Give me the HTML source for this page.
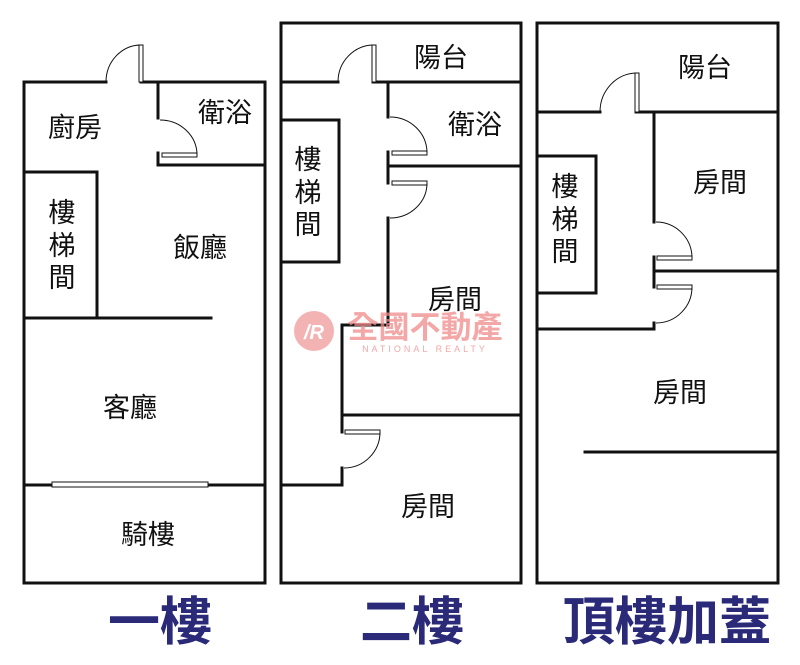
<!DOCTYPE html>
<html><head><meta charset="utf-8"><style>
html,body{margin:0;padding:0;background:#fff;}
svg{display:block}
.t{font-family:"Liberation Sans","Noto Sans CJK TC",sans-serif;font-size:27px;fill:#111;text-anchor:middle;dominant-baseline:central}
.h{font-family:"Liberation Sans","Noto Sans CJK TC",sans-serif;font-size:52px;font-weight:bold;fill:#2a2a78;text-anchor:middle}
</style></head><body>
<svg width="800" height="665" viewBox="0 0 800 665" xmlns="http://www.w3.org/2000/svg">
<g stroke="#111" stroke-width="3" fill="none" stroke-linecap="square">
<path d="M106 82 H24 V583 H265 V82 H141"/>
<path d="M158 82 V118 M158 153 V165 H265"/>
<path d="M24 172 H97 V318 M24 318 H211"/>
<path d="M24 485 H52 M208 485 H265"/>
<path d="M281 23 H521 V583 H281 Z"/>
<path d="M281 82 H338 M373 82 H521"/>
<path d="M388 82 V117 M388 152 V183 M388 218 V325 H342 V432 M342 468 V485 H281"/>
<path d="M388 166 H521 M342 415 H521"/>
<path d="M281 120 H339 V262 H281"/>
<path d="M537 23 H778 V583 H537 Z"/>
<path d="M537 112 H600 M636 112 H778"/>
<path d="M654 112 V222 M654 257 V287 M654 323 V329 H537"/>
<path d="M654 271 H778"/>
<path d="M537 156 H596 V293 H537"/>
<path d="M585 452 H778"/>
</g>
<g stroke="#111" stroke-width="1" fill="#fff">
<rect x="52" y="482" width="156" height="5"/>
<rect x="139" y="45" width="4" height="37"/>
<rect x="162" y="153" width="35" height="4"/>
<rect x="372" y="45" width="4" height="37"/>
<rect x="392" y="151" width="35" height="4"/>
<rect x="392" y="181" width="35" height="4"/>
<rect x="345" y="430" width="35" height="4"/>
<rect x="635" y="73" width="4" height="39"/>
<rect x="657" y="256" width="35" height="4"/>
<rect x="657" y="285" width="35" height="4"/>
</g>
<g stroke="#111" stroke-width="1" fill="none">
<path d="M106 82 A35 37 0 0 1 141 45"/>
<path d="M160 120 A37 35 0 0 1 197 155"/>
<path d="M338 82 A36 37 0 0 1 374 45"/>
<path d="M390 117 A37 36 0 0 1 427 153"/>
<path d="M427 183 A37 35 0 0 1 390 218"/>
<path d="M380 432 A36 36 0 0 1 344 468"/>
<path d="M600 112 A37 39 0 0 1 637 73"/>
<path d="M656 222 A36 36 0 0 1 692 258"/>
<path d="M692 287 A36 36 0 0 1 656 323"/>
</g>
<text class="t" x="75" y="128">廚房</text>
<text class="t" x="225" y="113">衛浴</text>
<text class="t" x="62" y="213">樓</text><text class="t" x="62" y="246">梯</text><text class="t" x="62" y="278">間</text>
<text class="t" x="200" y="248">飯廳</text>
<text class="t" x="130" y="408">客廳</text>
<text class="t" x="148" y="535">騎樓</text>
<text class="t" x="441" y="58">陽台</text>
<text class="t" x="475" y="125">衛浴</text>
<text class="t" x="308" y="160">樓</text><text class="t" x="308" y="193">梯</text><text class="t" x="308" y="225">間</text>
<text class="t" x="455" y="300">房間</text>
<text class="t" x="428" y="507">房間</text>
<text class="t" x="705" y="68">陽台</text>
<text class="t" x="565" y="187">樓</text><text class="t" x="565" y="220">梯</text><text class="t" x="565" y="252">間</text>
<text class="t" x="720" y="183">房間</text>
<text class="t" x="680" y="393">房間</text>
<g opacity="0.75">
<circle cx="314" cy="331" r="20" fill="#ef9a9a"/>
<text x="314" y="339" font-family="Liberation Sans,sans-serif" font-size="20" font-weight="bold" font-style="italic" fill="#fff" text-anchor="middle">/R</text>
<text x="425" y="338" font-family="Liberation Sans,'Noto Sans CJK TC',sans-serif" font-size="31" font-weight="bold" fill="#f08a8a" text-anchor="middle">全國不動產</text>
<text x="425" y="352" font-family="Liberation Sans,sans-serif" font-size="9" fill="#f08a8a" text-anchor="middle" letter-spacing="3">NATIONAL REALTY</text>
</g>
<text class="h" x="160" y="640">一樓</text>
<text class="h" x="412" y="640">二樓</text>
<text class="h" x="667" y="640">頂樓加蓋</text>
</svg>
</body></html>
